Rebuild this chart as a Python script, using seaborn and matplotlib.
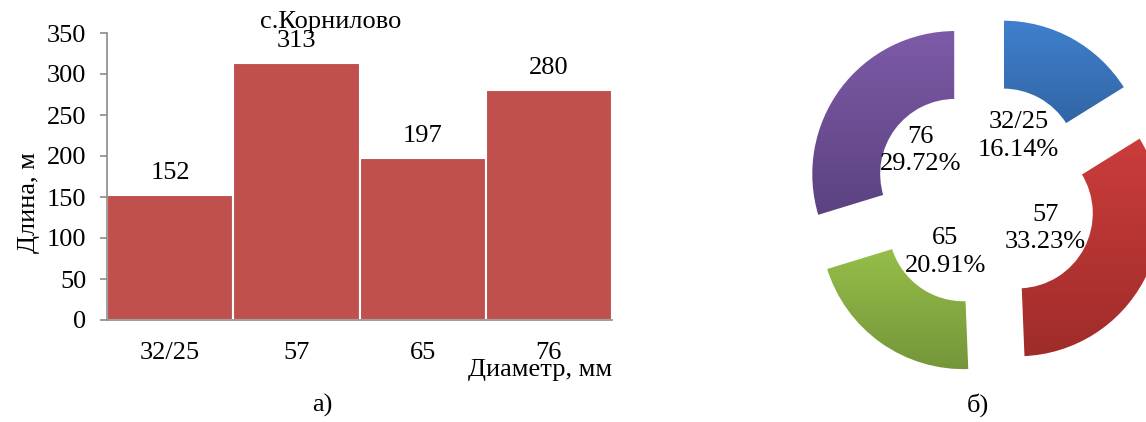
import numpy as np
import pandas as pd
import matplotlib
matplotlib.use("Agg")
import matplotlib.pyplot as plt
import seaborn as sns
from matplotlib.colors import LinearSegmentedColormap

# Pipe lengths by diameter, village Kornilovo
diameters = ["32/25", "57", "65", "76"]
lengths = [152, 313, 197, 280]

bar_color = "#C0504D"
ring_top_colors = ["#3F80CD", "#CB3D3B", "#9CC64B", "#7E5BA8"]
ring_bottom_colors = ["#2C5B95", "#9F2C2A", "#74953A", "#5B4280"]

sns.set_theme(style="white")
plt.rcParams["font.family"] = ["Liberation Serif", "DejaVu Serif"]
FS = 19

W, H = 1146, 422
fig = plt.figure(figsize=(W / 100, H / 100), dpi=100)


def px_box(x0, y0, x1, y1):
    """Axes rectangle from pixel corners (origin top-left)."""
    return [x0 / W, 1 - y1 / H, (x1 - x0) / W, (y1 - y0) / H]


# ---------------- bar chart ----------------
ax = fig.add_axes(px_box(107, 33, 612, 320))
df = pd.DataFrame({"diameter": diameters, "length": lengths})
sns.barplot(data=df, x="diameter", y="length", ax=ax, color=bar_color,
            saturation=1, width=1.0, edgecolor="white", linewidth=1.5)
ax.set_xlim(-0.5, 3.5)
ax.set_ylim(0, 350)
ax.set_yticks(np.arange(0, 351, 50))
for side in ("top", "right"):
    ax.spines[side].set_visible(False)
for side in ("left", "bottom"):
    ax.spines[side].set_color("#8C8C8C")
    ax.spines[side].set_linewidth(1.2)
ax.tick_params(axis="y", length=5, width=1.2, color="#8C8C8C", pad=10,
               labelsize=FS, labelcolor="black", left=True)
ax.tick_params(axis="x", length=0, pad=16, labelsize=FS, labelcolor="black")
ax.bar_label(ax.containers[0], labels=[str(v) for v in lengths],
             padding=8, fontsize=FS, color="black")

ax.set_ylabel("Длина, м", fontsize=FS, color="black")
ax.yaxis.set_label_coords(-0.155, 0.41)
ax.yaxis.label.set_va("center")
ax.set_xlabel("Диаметр, мм", fontsize=FS, color="black", loc="right")
ax.xaxis.set_label_coords(1.0, -0.175)
ax.xaxis.label.set_va("center")
ax.text(0.4436, 1.038, "с.Корнилово", transform=ax.transAxes,
        ha="center", va="center", fontsize=FS, color="black")

fig.text(322 / W, 1 - 405 / H, "а)", ha="center", va="center",
         fontsize=FS, color="black")
fig.text(978 / W, 1 - 405 / H, "б)", ha="center", va="center",
         fontsize=FS, color="black")

# ---------------- exploded donut ----------------
cx, cy, R = 985, 196, 144
half = 210
ax2 = fig.add_axes(px_box(cx - half, cy - half, cx + half, cy + half))
lab_iter = iter(diameters)
wedges, _, autotexts = ax2.pie(
    lengths, startangle=90, counterclock=False,
    explode=[0.257] * len(lengths),
    wedgeprops=dict(width=0.486, edgecolor="white", linewidth=1.5),
    autopct=lambda p: f"{next(lab_iter)}\n{p:.2f}%",
    pctdistance=0.22,
    textprops=dict(fontsize=FS, color="black", linespacing=1.3),
)
lim = half / R
# the last label sits a little further out in the hole
px_, py_ = autotexts[-1].get_position()
autotexts[-1].set_position((px_ * 1.17, py_ * 1.12))

grad = np.linspace(0, 1, 256).reshape(-1, 1)
for w, top, bot in zip(wedges, ring_top_colors, ring_bottom_colors):
    verts = w.get_path().vertices
    x0, y0 = verts.min(axis=0)
    x1, y1 = verts.max(axis=0)
    cmap = LinearSegmentedColormap.from_list("g", [top, bot])
    im = ax2.imshow(grad, cmap=cmap, extent=(x0, x1, y0, y1), origin="upper",
                    aspect="auto", zorder=1, interpolation="bilinear")
    im.set_clip_path(w)
    w.set_facecolor("none")
    w.set_zorder(2)
for t in autotexts:
    t.set_zorder(5)
ax2.set_xlim(-lim, lim)
ax2.set_ylim(-lim, lim)
ax2.axis("off")

fig.savefig("out.png", dpi=100)
